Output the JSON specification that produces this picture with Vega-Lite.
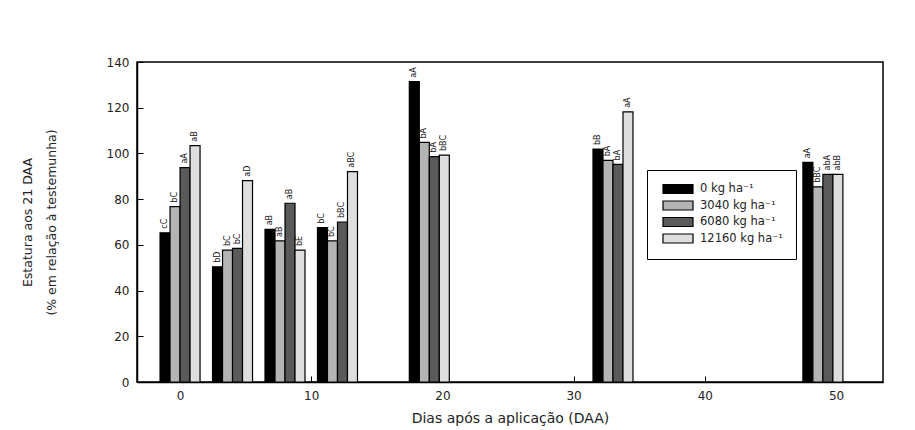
{
  "$schema": "https://vega.github.io/schema/vega-lite/v6.json",
  "width": 746,
  "height": 320,
  "autosize": {"type": "none"},
  "padding": {"left": 137, "top": 62, "right": 32, "bottom": 48},
  "background": "white",
  "config": {
    "view": {"stroke": "black", "strokeWidth": 1.5},
    "font": "DejaVu Sans",
    "axis": {"grid": false, "domainColor": "black", "tickColor": "black", "labelColor": "#222", "titleColor": "#222"},
    "bar": {"width": 10, "stroke": "black", "strokeWidth": 1.2},
    "text": {"angle": -90, "align": "left", "baseline": "middle", "dx": 4, "fontSize": 8, "color": "#222"}
  },
  "data": {
    "values": [
      {"day": 0, "dose": "0 kg ha⁻¹", "value": 65.3, "label": "cC"},
      {"day": 0, "dose": "3040 kg ha⁻¹", "value": 76.7, "label": "bC"},
      {"day": 0, "dose": "6080 kg ha⁻¹", "value": 93.8, "label": "aA"},
      {"day": 0, "dose": "12160 kg ha⁻¹", "value": 103.4, "label": "aB"},
      {"day": 4, "dose": "0 kg ha⁻¹", "value": 50.4, "label": "bD"},
      {"day": 4, "dose": "3040 kg ha⁻¹", "value": 57.7, "label": "bC"},
      {"day": 4, "dose": "6080 kg ha⁻¹", "value": 58.5, "label": "bC"},
      {"day": 4, "dose": "12160 kg ha⁻¹", "value": 88.1, "label": "aD"},
      {"day": 8, "dose": "0 kg ha⁻¹", "value": 66.8, "label": "aB"},
      {"day": 8, "dose": "3040 kg ha⁻¹", "value": 61.7, "label": "aB"},
      {"day": 8, "dose": "6080 kg ha⁻¹", "value": 78.2, "label": "aB"},
      {"day": 8, "dose": "12160 kg ha⁻¹", "value": 57.7, "label": "bE"},
      {"day": 12, "dose": "0 kg ha⁻¹", "value": 67.5, "label": "bC"},
      {"day": 12, "dose": "3040 kg ha⁻¹", "value": 61.7, "label": "bC"},
      {"day": 12, "dose": "6080 kg ha⁻¹", "value": 70.0, "label": "bBC"},
      {"day": 12, "dose": "12160 kg ha⁻¹", "value": 92.0, "label": "aBC"},
      {"day": 19, "dose": "0 kg ha⁻¹", "value": 131.4, "label": "aA"},
      {"day": 19, "dose": "3040 kg ha⁻¹", "value": 104.8, "label": "bA"},
      {"day": 19, "dose": "6080 kg ha⁻¹", "value": 98.6, "label": "bA"},
      {"day": 19, "dose": "12160 kg ha⁻¹", "value": 99.3, "label": "bBC"},
      {"day": 33, "dose": "0 kg ha⁻¹", "value": 101.9, "label": "bB"},
      {"day": 33, "dose": "3040 kg ha⁻¹", "value": 97.0, "label": "bA"},
      {"day": 33, "dose": "6080 kg ha⁻¹", "value": 95.2, "label": "bA"},
      {"day": 33, "dose": "12160 kg ha⁻¹", "value": 118.2, "label": "aA"},
      {"day": 49, "dose": "0 kg ha⁻¹", "value": 96.1, "label": "aA"},
      {"day": 49, "dose": "3040 kg ha⁻¹", "value": 85.4, "label": "bBC"},
      {"day": 49, "dose": "6080 kg ha⁻¹", "value": 90.8, "label": "abA"},
      {"day": 49, "dose": "12160 kg ha⁻¹", "value": 90.8, "label": "abB"}
    ]
  },
  "encoding": {
    "x": {
      "field": "day", "type": "quantitative",
      "scale": {"domain": [-2.9, 53.2], "nice": false, "zero": false},
      "axis": {"values": [0, 10, 20, 30, 40, 50], "tickSize": -6, "labelPadding": 14, "labelFontSize": 12, "domainWidth": 1.5,
               "title": "Dias após a aplicação (DAA)", "titleFontSize": 14, "titleFontWeight": "normal", "titlePadding": 10}
    },
    "y": {
      "field": "value", "type": "quantitative",
      "scale": {"domain": [0, 140], "nice": false},
      "axis": {"values": [0, 20, 40, 60, 80, 100, 120, 140], "tickSize": -6, "labelPadding": 14, "labelFontSize": 12, "domainWidth": 1.5,
               "title": ["Estatura aos 21 DAA", "(% em relação à testemunha)"], "titleFontSize": 12.5, "titleFontWeight": "normal",
               "titleLineHeight": 24, "titlePadding": 48}
    },
    "color": {
      "field": "dose", "type": "nominal",
      "scale": {"domain": ["0 kg ha⁻¹", "3040 kg ha⁻¹", "6080 kg ha⁻¹", "12160 kg ha⁻¹"], "range": ["#000000", "#b4b4b4", "#5a5a5a", "#dedede"]},
      "legend": {
        "orient": "none", "legendX": 510, "legendY": 108, "title": null,
        "padding": 13, "strokeColor": "black", "fillColor": "white",
        "symbolType": "M-0.6,-0.9H5.4V0.9H-0.6Z", "symbolSize": 100, "symbolStrokeColor": "black", "symbolStrokeWidth": 1.2, "symbolOpacity": 1,
        "labelFontSize": 11.5, "labelColor": "#222", "rowPadding": 2.5, "labelOffset": 28
      }
    }
  },
  "layer": [
    {
      "transform": [{"filter": "datum.dose === '0 kg ha⁻¹'"}],
      "layer": [
        {"mark": {"type": "bar", "xOffset": -15}},
        {"mark": {"type": "text", "xOffset": -15}, "encoding": {"text": {"field": "label"}, "color": {"value": "#222"}}}
      ]
    },
    {
      "transform": [{"filter": "datum.dose === '3040 kg ha⁻¹'"}],
      "layer": [
        {"mark": {"type": "bar", "xOffset": -5}},
        {"mark": {"type": "text", "xOffset": -5}, "encoding": {"text": {"field": "label"}, "color": {"value": "#222"}}}
      ]
    },
    {
      "transform": [{"filter": "datum.dose === '6080 kg ha⁻¹'"}],
      "layer": [
        {"mark": {"type": "bar", "xOffset": 5}},
        {"mark": {"type": "text", "xOffset": 5}, "encoding": {"text": {"field": "label"}, "color": {"value": "#222"}}}
      ]
    },
    {
      "transform": [{"filter": "datum.dose === '12160 kg ha⁻¹'"}],
      "layer": [
        {"mark": {"type": "bar", "xOffset": 15}},
        {"mark": {"type": "text", "xOffset": 15}, "encoding": {"text": {"field": "label"}, "color": {"value": "#222"}}}
      ]
    }
  ]
}
